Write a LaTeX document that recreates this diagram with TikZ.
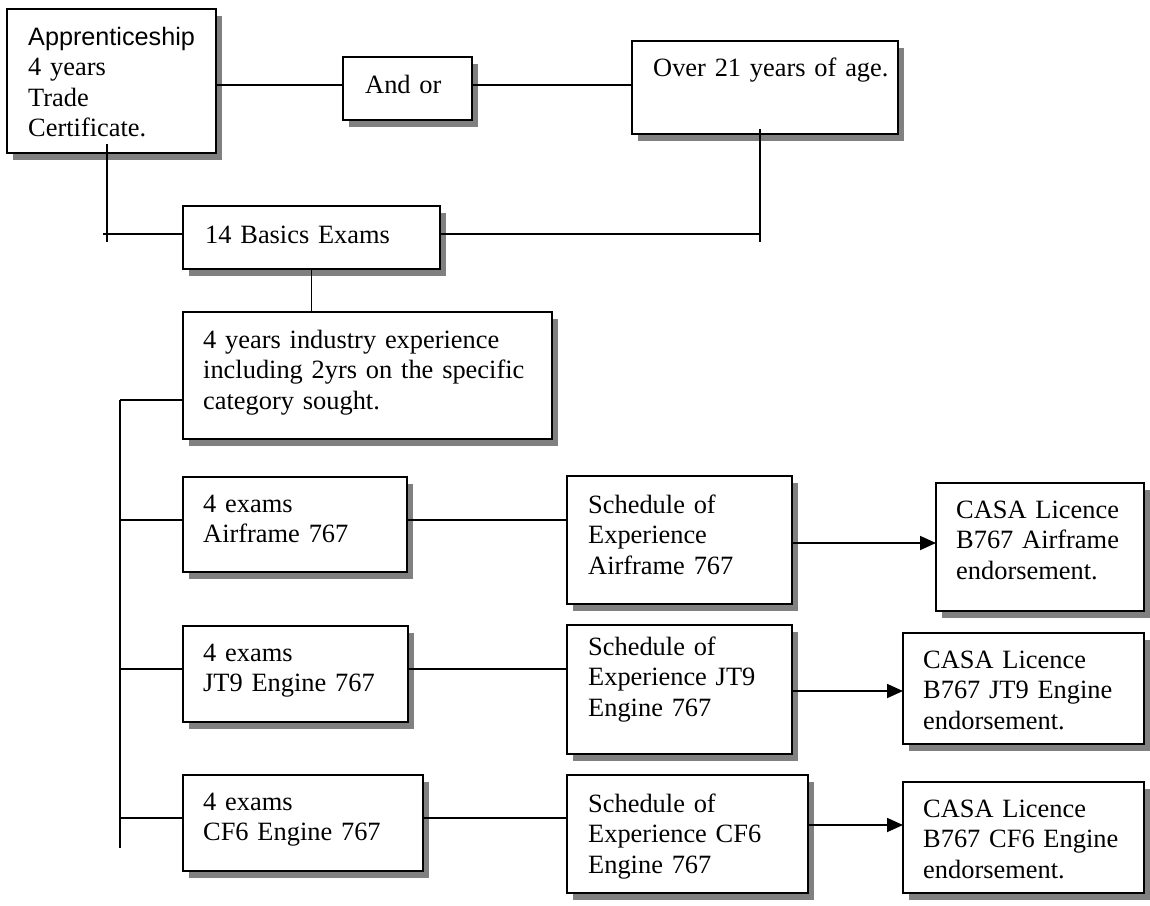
\documentclass[tikz,border=0pt]{standalone}
\usepackage{fontspec}
\setmainfont{Liberation Serif}
\newfontfamily\arialfont{Liberation Sans}
\usetikzlibrary{shadows,arrows.meta,calc}
\begin{document}
\begin{tikzpicture}[x=1pt,y=-1pt,
  box/.style={draw, line width=1.8pt, fill=white, inner sep=0pt, outer sep=0pt, anchor=north west,
    drop shadow={shadow xshift=6pt, shadow yshift=-7pt, fill=black!50, opacity=1}},
  txt/.style={anchor=base west, inner sep=0pt, align=left, text width=420pt,
    font=\fontsize{26.4pt}{30.5pt}\selectfont},
  conn/.style={line width=1.8pt},
  arr/.style={conn, -{Triangle[length=16pt,width=14pt]}}]
\useasboundingbox (0,0) rectangle (1150,905);

% boxes
\node[box, minimum width=209pt, minimum height=144pt] (A) at (7,9) {};
\node[box, minimum width=129pt, minimum height=63pt] (B) at (343,57) {};
\node[box, minimum width=266pt, minimum height=93pt] (C) at (632,41) {};
\node[box, minimum width=257pt, minimum height=63pt] (D) at (183,206) {};
\node[box, minimum width=369pt, minimum height=127pt] (E) at (183,312) {};
\node[box, minimum width=224pt, minimum height=95pt] (F1) at (183,477) {};
\node[box, minimum width=225pt, minimum height=96pt] (F2) at (183,626) {};
\node[box, minimum width=240pt, minimum height=96pt] (F3) at (183,775) {};
\node[box, minimum width=225pt, minimum height=128pt] (G1) at (567,476) {};
\node[box, minimum width=225pt, minimum height=129pt] (G2) at (567,625) {};
\node[box, minimum width=241pt, minimum height=118pt] (G3) at (567,775) {};
\node[box, minimum width=208pt, minimum height=128pt] (H1) at (936,483) {};
\node[box, minimum width=241pt, minimum height=111pt] (H2) at (903,633) {};
\node[box, minimum width=241pt, minimum height=111pt] (H3) at (903,782) {};

% texts
\node[txt] (At) at (28,45) {{\fontsize{25.2pt}{30.5pt}\arialfont Apprenticeship}\\4 years\\Trade\\Certificate.};
\node[txt] (Bt) at (365,93) {And or};
\node[txt] (Ct) at (653,76.5) {Over 21 years of age.};
\node[txt] (Dt) at (205,243) {14 Basics Exams};
\node[txt] (Et) at (203,348) {4 years industry experience\\including 2yrs on the specific\\category sought.};
\node[txt] (F1t) at (203,512) {4 exams\\Airframe 767};
\node[txt] (F2t) at (203,661) {4 exams\\JT9 Engine 767};
\node[txt] (F3t) at (203,810) {4 exams\\CF6 Engine 767};
\node[txt] (G1t) at (588,513) {Schedule of\\Experience\\Airframe 767};
\node[txt] (G2t) at (588,655) {Schedule of\\Experience JT9\\Engine 767};
\node[txt] (G3t) at (588,812) {Schedule of\\Experience CF6\\Engine 767};
\node[txt] (H1t) at (956,518) {CASA Licence\\B767 Airframe\\endorsement.};
\node[txt] (H2t) at (923,668) {CASA Licence\\B767 JT9 Engine\\endorsement.};
\node[txt] (H3t) at (923,817) {CASA Licence\\B767 CF6 Engine\\endorsement.};

% junction coordinates
\coordinate (top) at (0,85);
\coordinate (tl1) at (107,144);
\coordinate (tl2) at (107,242);
\coordinate (tl3) at (103,234);
\coordinate (tr1) at (760,129);
\coordinate (tr2) at (760,242);
\coordinate (sp1) at (120,400);
\coordinate (sp2) at (120,848);
\coordinate (r1) at (120,520);
\coordinate (r2) at (120,669);
\coordinate (r3) at (120,818);
\coordinate (a1) at (0,543);
\coordinate (a2) at (0,691);
\coordinate (a3) at (0,825);

% connectors
\draw[conn] (top -| A.east) -- (top -| B.west);
\draw[conn] (top -| B.east) -- (top -| C.west);
\draw[conn] (tl1) -- (tl2);
\draw[conn] (tl3) -- (tl3 -| D.west);
\draw[conn] (tl3 -| D.east) -- (tl3 -| tr1);
\draw[conn] (tr1) -- (tr2);
\draw[conn] (D.south) -- (D.south |- E.north);
\draw[conn] (sp1) -- (sp2);
\draw[conn] (sp1) -- (sp1 -| E.west);
\draw[conn] (r1) -- (r1 -| F1.west);
\draw[conn] (r2) -- (r2 -| F2.west);
\draw[conn] (r3) -- (r3 -| F3.west);
\draw[conn] (r1 -| F1.east) -- (r1 -| G1.west);
\draw[conn] (r2 -| F2.east) -- (r2 -| G2.west);
\draw[conn] (r3 -| F3.east) -- (r3 -| G3.west);
\draw[arr] (a1 -| G1.east) -- (a1 -| H1.west);
\draw[arr] (a2 -| G2.east) -- (a2 -| H2.west);
\draw[arr] (a3 -| G3.east) -- (a3 -| H3.west);
\end{tikzpicture}
\end{document}
